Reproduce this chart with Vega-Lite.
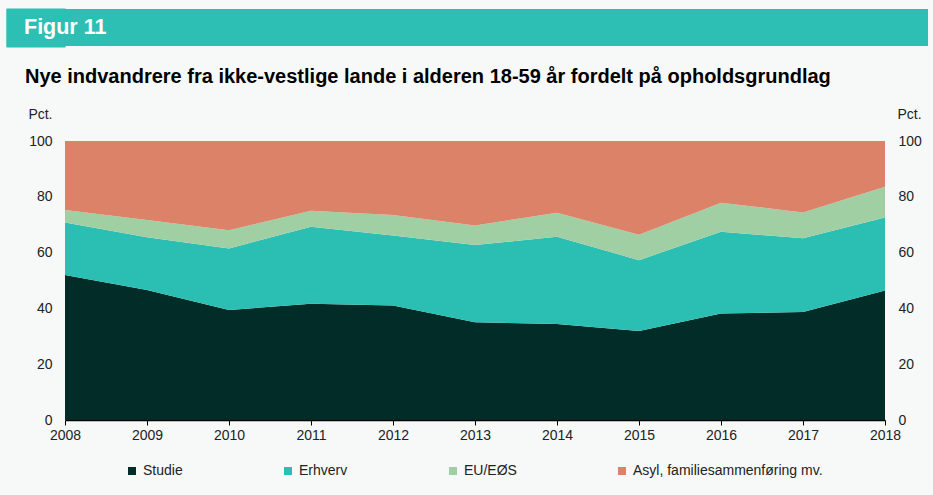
{
  "$schema": "https://vega.github.io/schema/vega-lite/v6.json",
  "background": "#f7f9f8",
  "padding": {"left": 5, "top": 8, "right": 5, "bottom": 22},
  "config": {"font": "Liberation Sans", "view": {"stroke": null}},
  "datasets": {
    "d": [
      {"year": 2008, "kat": "Studie", "ord": 1, "pct": 52.0},
      {"year": 2008, "kat": "Erhverv", "ord": 2, "pct": 18.8},
      {"year": 2008, "kat": "EU/EØS", "ord": 3, "pct": 4.5},
      {"year": 2008, "kat": "Asyl, familiesammenføring mv.", "ord": 4, "pct": 24.7},
      {"year": 2009, "kat": "Studie", "ord": 1, "pct": 46.6},
      {"year": 2009, "kat": "Erhverv", "ord": 2, "pct": 18.9},
      {"year": 2009, "kat": "EU/EØS", "ord": 3, "pct": 6.2},
      {"year": 2009, "kat": "Asyl, familiesammenføring mv.", "ord": 4, "pct": 28.3},
      {"year": 2010, "kat": "Studie", "ord": 1, "pct": 39.4},
      {"year": 2010, "kat": "Erhverv", "ord": 2, "pct": 22.1},
      {"year": 2010, "kat": "EU/EØS", "ord": 3, "pct": 6.5},
      {"year": 2010, "kat": "Asyl, familiesammenføring mv.", "ord": 4, "pct": 32.0},
      {"year": 2011, "kat": "Studie", "ord": 1, "pct": 41.7},
      {"year": 2011, "kat": "Erhverv", "ord": 2, "pct": 27.6},
      {"year": 2011, "kat": "EU/EØS", "ord": 3, "pct": 5.7},
      {"year": 2011, "kat": "Asyl, familiesammenføring mv.", "ord": 4, "pct": 25.0},
      {"year": 2012, "kat": "Studie", "ord": 1, "pct": 41.0},
      {"year": 2012, "kat": "Erhverv", "ord": 2, "pct": 25.1},
      {"year": 2012, "kat": "EU/EØS", "ord": 3, "pct": 7.4},
      {"year": 2012, "kat": "Asyl, familiesammenføring mv.", "ord": 4, "pct": 26.5},
      {"year": 2013, "kat": "Studie", "ord": 1, "pct": 35.0},
      {"year": 2013, "kat": "Erhverv", "ord": 2, "pct": 27.7},
      {"year": 2013, "kat": "EU/EØS", "ord": 3, "pct": 7.0},
      {"year": 2013, "kat": "Asyl, familiesammenføring mv.", "ord": 4, "pct": 30.3},
      {"year": 2014, "kat": "Studie", "ord": 1, "pct": 34.4},
      {"year": 2014, "kat": "Erhverv", "ord": 2, "pct": 31.3},
      {"year": 2014, "kat": "EU/EØS", "ord": 3, "pct": 8.6},
      {"year": 2014, "kat": "Asyl, familiesammenføring mv.", "ord": 4, "pct": 25.7},
      {"year": 2015, "kat": "Studie", "ord": 1, "pct": 31.9},
      {"year": 2015, "kat": "Erhverv", "ord": 2, "pct": 25.4},
      {"year": 2015, "kat": "EU/EØS", "ord": 3, "pct": 9.1},
      {"year": 2015, "kat": "Asyl, familiesammenføring mv.", "ord": 4, "pct": 33.6},
      {"year": 2016, "kat": "Studie", "ord": 1, "pct": 38.2},
      {"year": 2016, "kat": "Erhverv", "ord": 2, "pct": 29.3},
      {"year": 2016, "kat": "EU/EØS", "ord": 3, "pct": 10.4},
      {"year": 2016, "kat": "Asyl, familiesammenføring mv.", "ord": 4, "pct": 22.1},
      {"year": 2017, "kat": "Studie", "ord": 1, "pct": 38.7},
      {"year": 2017, "kat": "Erhverv", "ord": 2, "pct": 26.4},
      {"year": 2017, "kat": "EU/EØS", "ord": 3, "pct": 9.3},
      {"year": 2017, "kat": "Asyl, familiesammenføring mv.", "ord": 4, "pct": 25.6},
      {"year": 2018, "kat": "Studie", "ord": 1, "pct": 46.4},
      {"year": 2018, "kat": "Erhverv", "ord": 2, "pct": 26.2},
      {"year": 2018, "kat": "EU/EØS", "ord": 3, "pct": 11.0},
      {"year": 2018, "kat": "Asyl, familiesammenføring mv.", "ord": 4, "pct": 16.4}
    ],
    "banner": [{"label": "Figur 11"}]
  },
  "spacing": 20,
  "vconcat": [
    {
      "width": 863,
      "height": 37,
      "view": {"fill": "#2dbfb3", "stroke": null},
      "data": {"name": "banner"},
      "title": {"text": "Figur 11", "anchor": "start", "frame": "group", "offset": -30, "dx": -41, "color": "#ffffff", "fontSize": 21.5, "fontWeight": "bold", "zindex": 5},
      "mark": {"type": "rect", "fill": "#2dbfb3"},
      "encoding": {
        "y": {"datum": 0, "type": "quantitative", "scale": {"domain": [0, 37], "nice": false, "zero": false},
          "axis": {"orient": "left", "title": null, "labels": false, "domain": false, "grid": false, "ticks": true,
            "values": [0, 1, 2, 3, 4, 5, 6, 7, 8, 9, 10, 11, 12, 13, 14, 15, 16, 17, 18, 19, 20, 21, 22, 23, 24, 25, 26, 27, 28, 29, 30, 31, 32, 33, 34, 35, 36, 37],
            "tickSize": 59, "tickWidth": 2, "tickColor": "#2dbfb3", "tickCap": "butt", "tickOpacity": 1, "zindex": 0}},
        "y2": {"datum": 37}
      }
    },
    {
      "width": 820,
      "height": 279,
      "data": {"name": "d"},
      "title": {"text": "Nye indvandrere fra ikke-vestlige lande i alderen 18-59 år fordelt på opholdsgrundlag", "anchor": "start", "frame": "group", "dx": -40, "offset": 20, "fontSize": 20, "fontWeight": "bold", "color": "#000000"},
      "layer": [
        {
          "mark": {"type": "area", "interpolate": "linear"},
          "encoding": {
            "x": {"field": "year", "type": "quantitative", "scale": {"domain": [2008, 2018], "nice": false, "zero": false},
              "axis": {"title": null, "values": [2008, 2009, 2010, 2011, 2012, 2013, 2014, 2015, 2016, 2017, 2018], "format": "d", "grid": false, "domainColor": "#000000", "domainWidth": 1.5, "tickColor": "#000000", "tickSize": 5, "labelFontSize": 14, "labelColor": "#222222", "labelPadding": 3, "labelFlush": false}},
            "y": {"field": "pct", "type": "quantitative", "stack": "zero", "scale": {"domain": [0, 100], "nice": false},
              "axis": {"orient": "left", "values": [0, 20, 40, 60, 80, 100], "grid": false, "domain": false, "ticks": false, "labelPadding": 13, "labelFontSize": 14, "labelColor": "#222222", "minExtent": 60,
                "title": "Pct.", "titleAngle": 0, "titleX": -13, "titleY": -27, "titleAlign": "right", "titleBaseline": "middle", "titleFontSize": 14, "titleFontWeight": "normal", "titleColor": "#222222"}},
            "color": {"field": "kat", "type": "nominal",
              "scale": {"domain": ["Studie", "Erhverv", "EU/EØS", "Asyl, familiesammenføring mv."], "range": ["#022c28", "#2bbfb3", "#a0cfa4", "#db8268"]},
              "legend": {"orient": "none", "legendX": 60, "legendY": 455, "direction": "horizontal", "columns": 4, "columnPadding": 98, "title": null, "symbolType": "square", "symbolSize": 64, "symbolStrokeWidth": 0, "labelFontSize": 14, "labelColor": "#222222", "labelOffset": 4, "labelLimit": 400}},
            "order": {"field": "ord", "type": "quantitative"}
          }
        },
        {
          "mark": {"type": "area", "opacity": 0},
          "encoding": {
            "x": {"field": "year", "type": "quantitative"},
            "y": {"field": "pct", "type": "quantitative", "stack": null,
              "axis": {"orient": "right", "values": [0, 20, 40, 60, 80, 100], "grid": false, "domain": false, "ticks": false, "labelPadding": 13, "labelFontSize": 14, "labelColor": "#222222",
                "title": "Pct.", "titleAngle": 0, "titleX": 12, "titleY": -27, "titleAlign": "left", "titleBaseline": "middle", "titleFontSize": 14, "titleFontWeight": "normal", "titleColor": "#222222"}}
          }
        }
      ],
      "resolve": {"axis": {"y": "independent"}}
    }
  ]
}
